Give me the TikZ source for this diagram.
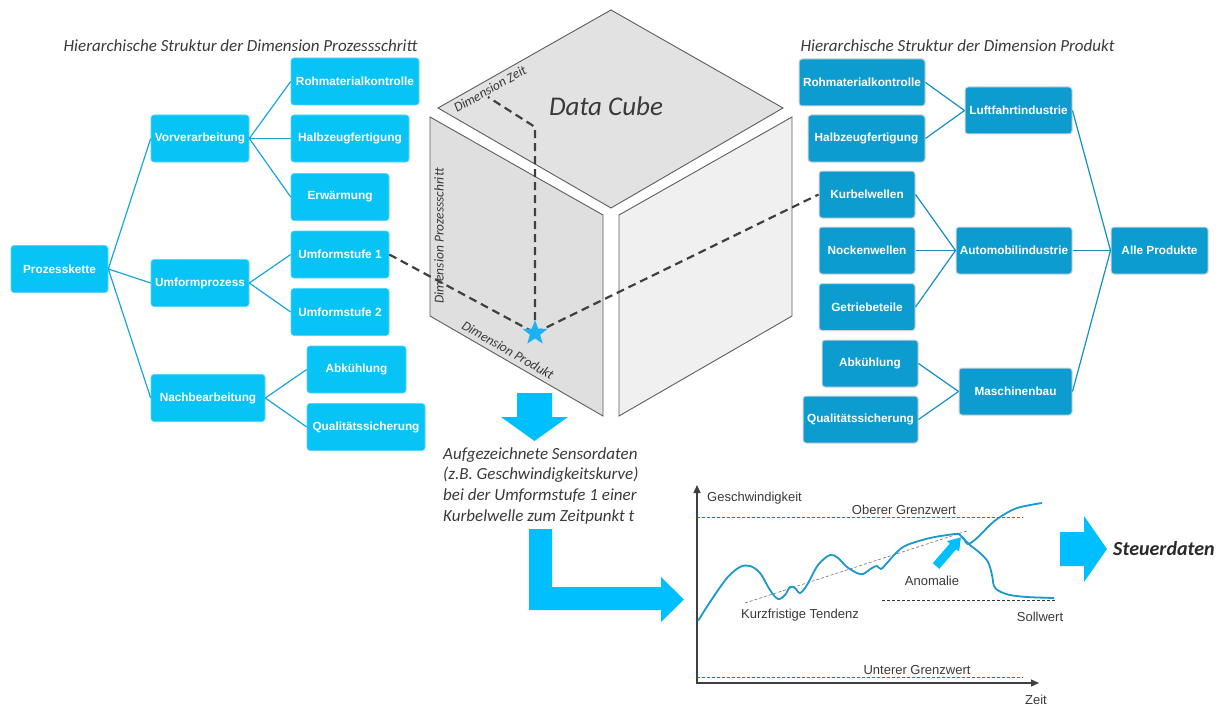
\documentclass[tikz,border=0pt]{standalone}
\usepackage{fontspec}
\setmainfont{Carlito}
\newfontfamily\arialf{Liberation Sans}
\usetikzlibrary{shapes.geometric,arrows.meta}
\definecolor{lcyan}{HTML}{08C4F6}
\definecolor{ledge}{HTML}{1BA5DC}
\definecolor{rblue}{HTML}{0C9CD0}
\definecolor{redge}{HTML}{1690C2}
\definecolor{arrowc}{HTML}{00BFFF}
\definecolor{txt}{HTML}{3A3A3A}
\definecolor{dashc}{HTML}{404040}
\definecolor{curvec}{HTML}{1B98CC}
\definecolor{starc}{HTML}{1AB2F0}
\definecolor{facetop}{HTML}{E2E2E2}
\definecolor{faceleft}{HTML}{DFDFDF}
\definecolor{faceright}{HTML}{F0F0F0}
\begin{document}
\begin{tikzpicture}[x=1pt,y=-1pt,
  boxlbl/.style={font=\arialf\bfseries\fontsize{11.8}{14}\selectfont, text=white, inner sep=0pt, minimum height=47pt, rounded corners=3pt},
  lbox/.style={boxlbl, fill=lcyan, draw=lcyan!70!white, line width=0.6pt},
  rbox/.style={boxlbl, fill=rblue, draw=gray!35, line width=1pt},
  ledgeline/.style={draw=ledge, line width=1.2pt},
  redgeline/.style={draw=redge, line width=1.2pt},
  title/.style={font=\itshape\fontsize{17}{20}\selectfont, text=txt, inner sep=0pt},
  dimlbl/.style={font=\itshape\fontsize{13.5}{16}\selectfont, text=txt, inner sep=0pt},
  face/.style={draw=dashc!85, line width=0.9pt},
  dashline/.style={draw=dashc, line width=2.2pt, dash pattern=on 8pt off 5pt},
  blockarrow/.style={fill=arrowc},
  chartlbl/.style={font=\arialf\fontsize{13}{15}\selectfont, text=txt, inner sep=0pt},
  axisline/.style={draw=dashc, line width=1.2pt},
  limitline/.style={draw=red!85, line width=0.7pt, dash pattern=on 3pt off 2pt},
]
\fill[white] (0,0) rectangle (1228,706);
\useasboundingbox (0,0) rectangle (1228,706);

% titles
\node[title] (tl) at (240.5,46) {Hierarchische Struktur der Dimension Prozessschritt};
\node[title] (tr) at (957.5,46) {Hierarchische Struktur der Dimension Produkt};

% left tree
\node[lbox, minimum width=97pt] (pk) at (59.5,269) {Prozesskette};
\node[lbox, minimum width=98pt] (vv) at (200,138.5) {Vorverarbeitung};
\node[lbox, minimum width=98pt] (up) at (200,283) {Umformprozess};
\node[lbox, minimum width=114pt] (nb) at (208,398) {Nachbearbeitung};
\node[lbox, minimum width=128pt] (rk) at (355,81.5) {Rohmaterialkontrolle};
\node[lbox, minimum width=118pt] (hf) at (350,138.5) {Halbzeugfertigung};
\node[lbox, minimum width=98pt] (ew) at (340,197) {Erwärmung};
\node[lbox, minimum width=98pt] (us1) at (340,254.5) {Umformstufe 1};
\node[lbox, minimum width=98pt] (us2) at (340,312) {Umformstufe 2};
\node[lbox, minimum width=99pt] (ak) at (356.5,369.5) {Abkühlung};
\node[lbox, minimum width=118pt] (qs) at (366,427) {Qualitätssicherung};
\foreach \c in {vv,up,nb} \draw[ledgeline] (pk.east) -- (\c.west);
\foreach \c in {rk,hf,ew} \draw[ledgeline] (vv.east) -- (\c.west);
\foreach \c in {us1,us2} \draw[ledgeline] (up.east) -- (\c.west);
\foreach \c in {ak,qs} \draw[ledgeline] (nb.east) -- (\c.west);

% right tree
\node[rbox, minimum width=126pt] (rrk) at (862,82.5) {Rohmaterialkontrolle};
\node[rbox, minimum width=117pt] (rhf) at (866.5,138.5) {Halbzeugfertigung};
\node[rbox, minimum width=107pt] (lf) at (1018.5,110.5) {Luftfahrtindustrie};
\node[rbox, minimum width=96pt] (kw) at (867,194.5) {Kurbelwellen};
\node[rbox, minimum width=96pt] (nw) at (867,250.5) {Nockenwellen};
\node[rbox, minimum width=96pt] (gt) at (867,307) {Getriebeteile};
\node[rbox, minimum width=116pt] (ai) at (1014,250.5) {Automobilindustrie};
\node[rbox, minimum width=97pt] (ap) at (1159.5,250.5) {Alle Produkte};
\node[rbox, minimum width=96pt] (rak) at (870,363.5) {Abkühlung};
\node[rbox, minimum width=115pt] (rqs) at (860.5,419.5) {Qualitätssicherung};
\node[rbox, minimum width=113pt] (mb) at (1015.5,391.5) {Maschinenbau};
\foreach \c in {rrk,rhf} \draw[redgeline] (\c.east) -- (lf.west);
\foreach \c in {kw,nw,gt} \draw[redgeline] (\c.east) -- (ai.west);
\foreach \c in {rak,rqs} \draw[redgeline] (\c.east) -- (mb.west);
\foreach \c in {lf,ai,mb} \draw[redgeline] (\c.east) -- (ap.west);

% cube
\filldraw[face, fill=facetop] (611,10) -- (783,108) -- (611,208) -- (438,108) -- cycle;
\filldraw[face, fill=faceleft] (430,117) -- (603,215) -- (603,416) -- (430,316) -- cycle;
\filldraw[face, fill=faceright] (619,215) -- (792,117) -- (792,316) -- (619,416) -- cycle;
\node[font=\itshape\fontsize{27}{30}\selectfont, text=txt, inner sep=0pt] (dc) at (606,106) {Data Cube};
\node[dimlbl, rotate=29.5] (dz) at (490,89) {Dimension Zeit};
\node[dimlbl, rotate=90] (dp) at (439,236) {Dimension Prozessschritt};
\node[dimlbl, rotate=-30] (dpr) at (508,350) {Dimension Produkt};

% dashed lines and star
\coordinate (stc) at (535,333);
\coordinate (vt) at (535,127);
\coordinate (vz) at (488,97);
\draw[dashline] (us1.east) -- (stc);
\draw[dashline] (stc) -- (kw.west);
\draw[dashline] (stc) -- (vt) -- (vz);
\node[star, star points=5, star point ratio=2.4, fill=starc, minimum size=26pt, inner sep=0pt] (st) at (stc) {};

% down arrow
\fill[blockarrow] (517,393) -- (552,393) -- (552,417) -- (568,417) -- (534.5,441) -- (501,417) -- (517,417) -- cycle;

% sensor text
\node[anchor=north west, align=left, inner sep=0pt, font=\itshape\fontsize{17}{20.7}\selectfont, text=txt] (sens) at (443,447) {Aufgezeichnete Sensordaten\\(z.B. Geschwindigkeitskurve)\\bei der Umformstufe 1 einer\\Kurbelwelle zum Zeitpunkt t};

% L arrow
\fill[blockarrow] (529,529) -- (552,529) -- (552,587) -- (661,587) -- (661,577) -- (684,599.5) -- (661,622) -- (661,610) -- (529,610) -- cycle;

% chart
\coordinate (o) at (697,683);
\coordinate (ytip) at (697,485);
\coordinate (xtip) at (1039,683);
\draw[axisline, {Triangle[length=8pt,width=7pt]}-{Triangle[length=8pt,width=7pt]}] (ytip) -- (o) -- (xtip);
\draw[limitline] (697,517) -- (1023,517);
\draw[limitline] (697,677) -- (1023,677);
\draw[draw=black!80, line width=0.7pt, dash pattern=on 3pt off 2pt] (882,600) -- (1056,600);
\draw[draw=gray, line width=0.7pt, dash pattern=on 3pt off 2pt] (745,603) -- (967,531);
\node[chartlbl, anchor=west] (gk) at (707,498) {Geschwindigkeit};
\node[chartlbl] (og) at (904,510) {Oberer Grenzwert};
\node[chartlbl] (ug) at (917,670) {Unterer Grenzwert};
\node[chartlbl] (zt) at (1036,700) {Zeit};
\node[chartlbl] (sw) at (1040,617) {Sollwert};
\node[chartlbl] (kt) at (800,615) {Kurzfristige Tendenz};
\node[chartlbl] (an) at (932,581) {Anomalie};
\draw[curvec, line width=1.8pt, line join=round] plot[smooth, tension=0.55] coordinates {(698,621) (710,602) (727,578) (740,567) (750,566) (760,573) (770,590) (778,599) (785,595) (790,587) (795,588) (800,593) (807,585) (818,565) (830,555) (838,558) (847,567) (857,573) (863,574) (872,568) (877,566) (881,569) (887,563) (897,552) (907,545) (930,538) (955,534) (960,535) (964,539) (968,544) (977,538) (990,525) (1000,517) (1017,508) (1042,503)};
\draw[curvec, line width=1.8pt, line join=round] plot[smooth, tension=0.55] coordinates {(962,537) (970,545) (980,553) (988,562) (992,575) (994,586) (999,591) (1010,595) (1027,597) (1054,598)};
% anomaly arrow
\begin{scope}[shift={(936,566)}, rotate=49]
\fill[blockarrow] (0,-4.3) -- (26,-4.3) -- (26,-8) -- (38,0) -- (26,8) -- (26,4.3) -- (0,4.3) -- cycle;
\end{scope}

% Steuerdaten arrow
\fill[blockarrow] (1060,532) -- (1084,532) -- (1084,516) -- (1107,549) -- (1084,582) -- (1084,566) -- (1060,566) -- cycle;
\node[font=\bfseries\itshape\fontsize{20}{24}\selectfont, text=txt!70!black, anchor=west, inner sep=0pt] (sd) at (1113,549) {Steuerdaten};
\end{tikzpicture}
\end{document}
